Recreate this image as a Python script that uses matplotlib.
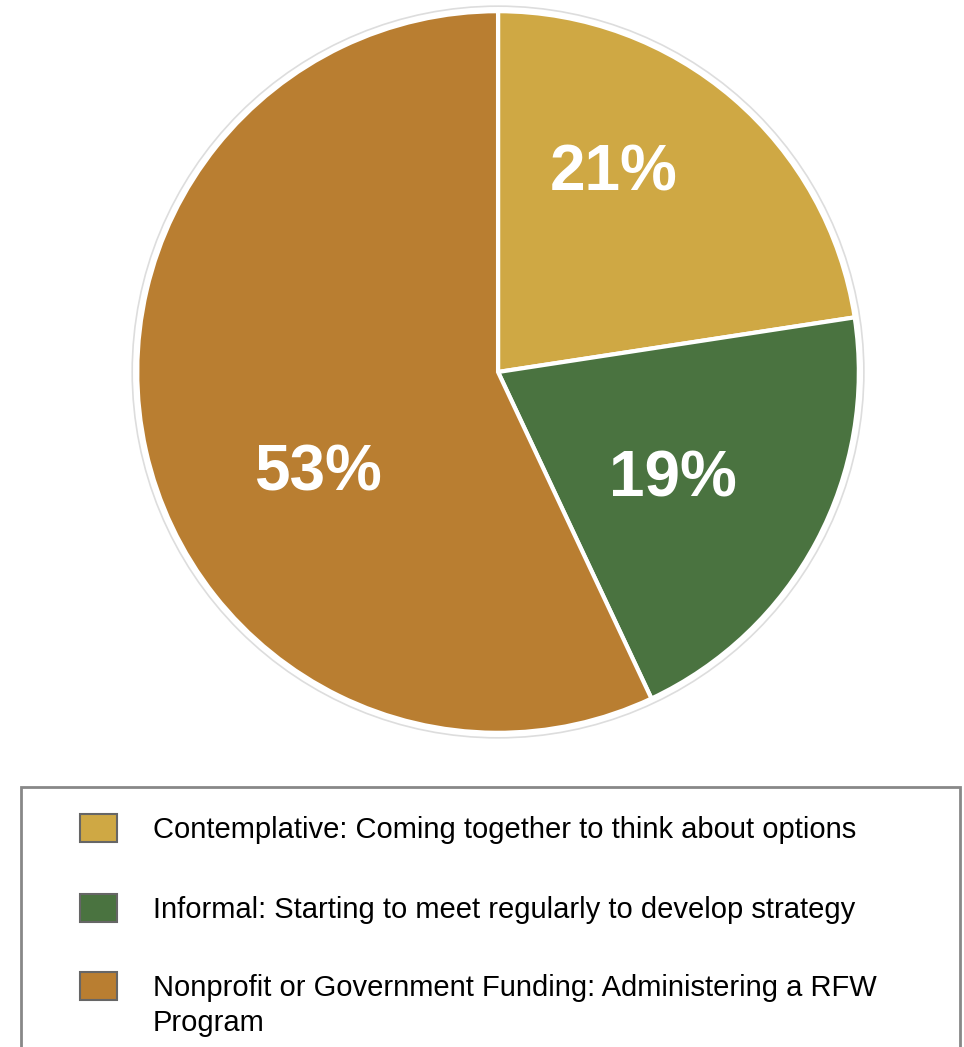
import matplotlib.pyplot as plt
from matplotlib.patches import Rectangle, Circle

plt.rcParams['font.family'] = ['Liberation Sans', 'DejaVu Sans']

values = [21, 19, 53]
pct_labels = ['21%', '19%', '53%']
colors = ['#CFA844', '#4A7340', '#B97E31']
legend_labels = [
    'Contemplative: Coming together to think about options',
    'Informal: Starting to meet regularly to develop strategy',
    'Nonprofit or Government Funding: Administering a RFW\nProgram',
]

W, H = 964, 1047
fig = plt.figure(figsize=(W / 100, H / 100), dpi=100)

# pie area (center ~ (498, 372) px, radius ~361 px)
ax = fig.add_axes([0.1349, 0.2932, 0.7635, 0.7030])
wedges, texts = ax.pie(values, colors=colors, labels=pct_labels, labeldistance=0.6,
                       startangle=90, counterclock=False,
                       wedgeprops=dict(edgecolor='white', linewidth=3),
                       textprops=dict(color='white', fontsize=46, fontweight='bold',
                                      ha='center', va='center'))
# nudge labels a bit, like the original layout
label_nudge = [(-0.071, 0.095), (-0.044, -0.016), (0.087, -0.152)]
for t, (dx, dy) in zip(texts, label_nudge):
    x, y = t.get_position()
    t.set_position((x + dx, y + dy))

ax.add_patch(Circle((0, 0), 1.014, fill=False, edgecolor='#dddddd', linewidth=1.2))
ax.set_xlim(-1.02, 1.02)
ax.set_ylim(-1.02, 1.02)
ax.set_aspect('equal')
ax.axis('off')

# legend box, runs off the bottom
fig.patches.append(Rectangle((21 / W, -0.05), 939 / W, 1 - 787 / H + 0.05,
                             transform=fig.transFigure, fill=False,
                             edgecolor='#888888', linewidth=2))

row_mid = [828, 908, 986]
line_gap = 35
for y, c, lab in zip(row_mid, colors, legend_labels):
    fig.patches.append(Rectangle((80 / W, 1 - (y + 14) / H), 37 / W, 28 / H,
                                 transform=fig.transFigure, facecolor=c,
                                 edgecolor='#666666', linewidth=1.5))
    for k, line in enumerate(lab.split('\n')):
        fig.text(153 / W, 1 - (y + 10 + k * line_gap) / H, line, fontsize=21,
                 va='baseline', ha='left', color='black')

fig.savefig('out.png', dpi=100)
